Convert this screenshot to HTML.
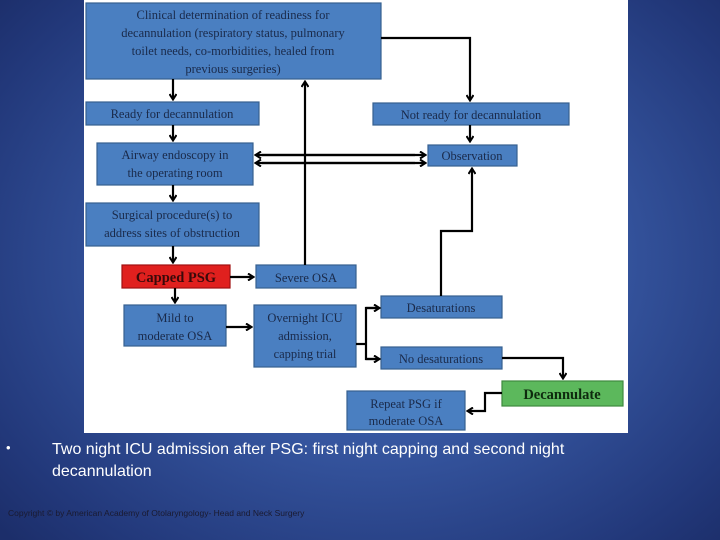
<!DOCTYPE html>
<html><head><meta charset="utf-8"><style>
html,body{margin:0;padding:0}
body{width:720px;height:540px;overflow:hidden;position:relative;background:radial-gradient(ellipse 70% 75% at 52% 48%,#4a6cb8 0%,#3656a0 45%,#22387a 85%,#1c2e6a 100%);font-family:"Liberation Sans",sans-serif}
svg{position:absolute;left:0;top:0}
.t{position:absolute;color:#fff;font-size:16px}
</style></head><body>
<svg width="720" height="540" viewBox="0 0 720 540">
<defs><marker id="a" markerWidth="8" markerHeight="8" refX="6" refY="4" orient="auto" markerUnits="userSpaceOnUse"><path d="M1,0.5 L6.5,4 L1,7.5" fill="none" stroke="#000" stroke-width="2"/></marker></defs>
<rect x="84" y="0" width="544" height="433" fill="#fff"/>
<g fill="#4a7fc1" stroke="#36608f" stroke-width="1.2">
<rect x="86" y="3" width="295" height="76"/>
<rect x="86" y="102" width="173" height="23"/>
<rect x="373" y="103" width="196" height="22"/>
<rect x="97" y="143" width="156" height="42"/>
<rect x="428" y="145" width="89" height="21"/>
<rect x="86" y="203" width="173" height="43"/>
<rect x="122" y="265" width="108" height="23" fill="#e0201e" stroke="#a01010"/>
<rect x="256" y="265" width="100" height="23"/>
<rect x="124" y="305" width="102" height="41"/>
<rect x="254" y="305" width="102" height="62"/>
<rect x="381" y="296" width="121" height="22"/>
<rect x="381" y="347" width="121" height="22"/>
<rect x="502" y="381" width="121" height="25" fill="#5cb85c" stroke="#3e8a3e"/>
<rect x="347" y="391" width="118" height="39"/>
</g>
<g stroke="#000" stroke-width="2.2" fill="none">
<line x1="173" y1="79" x2="173" y2="99" marker-end="url(#a)"/>
<polyline points="381,38 470,38 470,100" marker-end="url(#a)"/>
<line x1="470" y1="125" x2="470" y2="141" marker-end="url(#a)"/>
<line x1="173" y1="125" x2="173" y2="140" marker-end="url(#a)"/>
<line x1="173" y1="185" x2="173" y2="200" marker-end="url(#a)"/>
<line x1="173" y1="246" x2="173" y2="262" marker-end="url(#a)"/>
<line x1="175" y1="288" x2="175" y2="302" marker-end="url(#a)"/>
<line x1="230" y1="277" x2="253" y2="277" marker-end="url(#a)"/>
<line x1="226" y1="327" x2="251" y2="327" marker-end="url(#a)"/>
<line x1="262" y1="155" x2="425" y2="155" marker-end="url(#a)"/>
<line x1="415" y1="163" x2="256" y2="163" marker-end="url(#a)"/>
<line x1="262" y1="163" x2="425" y2="163" marker-end="url(#a)"/>
<line x1="415" y1="155" x2="256" y2="155" marker-end="url(#a)"/>
<line x1="305" y1="265" x2="305" y2="82" marker-end="url(#a)"/>
<polyline points="441,296 441,231 472,231 472,169" marker-end="url(#a)"/>
<polyline points="356,344 366,344"/>
<polyline points="378,308 366,308 366,359 378,359"/>
<line x1="366" y1="308" x2="379" y2="308" marker-end="url(#a)"/>
<line x1="366" y1="359" x2="379" y2="359" marker-end="url(#a)"/>
<polyline points="502,358 563,358 563,378" marker-end="url(#a)"/>
<polyline points="502,393 485,393 485,411 468,411" marker-end="url(#a)"/>
</g>
<g font-family="Liberation Serif,serif" font-size="12.5" fill="#1a2a4a" text-anchor="middle">
<text x="233" y="19">Clinical determination of  readiness for</text>
<text x="233" y="37">decannulation (respiratory status, pulmonary</text>
<text x="233" y="55">toilet needs, co-morbidities, healed from</text>
<text x="233" y="73">previous surgeries)</text>
<text x="172" y="118">Ready for decannulation</text>
<text x="471" y="119">Not ready for decannulation</text>
<text x="175" y="159">Airway endoscopy in</text>
<text x="175" y="177">the operating room</text>
<text x="472" y="160">Observation</text>
<text x="172" y="219">Surgical procedure(s) to</text>
<text x="172" y="237">address sites of  obstruction</text>
<text x="176" y="282" font-size="14.5" font-weight="bold" fill="#3a0a0a">Capped PSG</text>
<text x="306" y="282">Severe OSA</text>
<text x="175" y="322">Mild to</text>
<text x="175" y="340">moderate OSA</text>
<text x="305" y="322">Overnight ICU</text>
<text x="305" y="340">admission,</text>
<text x="305" y="358">capping trial</text>
<text x="441" y="312">Desaturations</text>
<text x="441" y="363">No desaturations</text>
<text x="562" y="399" font-size="14.5" font-weight="bold" fill="#0e2a0e">Decannulate</text>
<text x="406" y="408">Repeat PSG if</text>
<text x="406" y="425">moderate OSA</text>
</g>
</svg>
<div class="t" style="left:6px;top:440px;font-size:13px">•</div>
<div class="t" style="left:52px;top:439px;line-height:22px;width:560px">Two night ICU admission after PSG: first night capping and second night decannulation</div>
<div class="t" style="left:8px;top:508px;font-size:8.5px;color:#1a1a30">Copyright © by American Academy of Otolaryngology- Head and Neck Surgery</div>
</body></html>
